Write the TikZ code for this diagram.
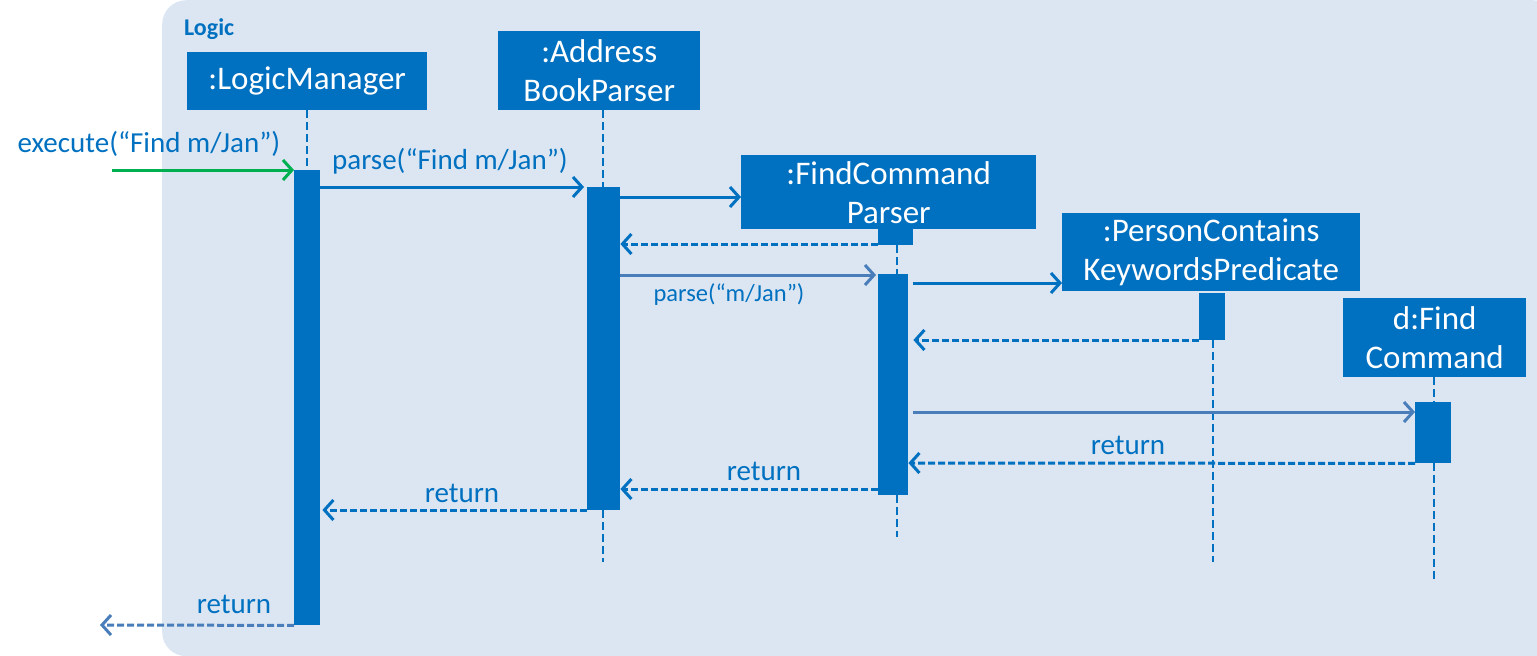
\documentclass[tikz,border=0pt]{standalone}
\usepackage{fontspec}
\setmainfont{Carlito}
\usetikzlibrary{arrows.meta}
\definecolor{bl}{HTML}{0070C0}
\definecolor{bgc}{HTML}{DCE6F2}
\definecolor{gr}{HTML}{00B050}
\definecolor{lb}{HTML}{4A7EBB}
\begin{document}
\begin{tikzpicture}[x=1pt,y=-1pt,
  obj/.style={fill=bl,text=white,font=\fontsize{33}{39}\selectfont,align=center,inner sep=0pt,anchor=north west},
  act/.style={fill=bl,inner sep=0pt,anchor=north west},
  life/.style={draw=bl,line width=2.5pt,dash pattern=on 8pt off 4pt},
  msg/.style={draw=bl,line width=3pt,-{Straight Barb[length=9pt,width=20pt,line width=3pt]}},
  ret/.style={msg,dash pattern=on 7pt off 3pt},
  lbl/.style={text=bl,font=\fontsize{29}{30}\selectfont,inner sep=0pt},
  slbl/.style={text=bl,font=\fontsize{24.5}{26}\selectfont,inner sep=0pt}]
\useasboundingbox (0,0) rectangle (1537,656);
\node[fill=bgc,rounded corners=24pt,minimum width=1395pt,minimum height=656pt,anchor=north west,inner sep=0pt] (frame) at (162,0) {};
\node[text=bl,font=\fontsize{24}{26}\selectfont\bfseries,anchor=west,inner sep=0pt] (title) at (184,29) {Logic};
% objects
\node[obj,minimum width=240pt,minimum height=58pt] (lm) at (187,52) {:LogicManager};
\node[obj,minimum width=202pt,minimum height=79pt] (abp) at (498,31) {:Address\\BookParser};
\node[obj,minimum width=295pt,minimum height=74pt] (fcp) at (741,155) {:FindCommand\\Parser};
\node[obj,minimum width=298pt,minimum height=78pt] (pck) at (1062,213) {:PersonContains\\KeywordsPredicate};
\node[obj,minimum width=183pt,minimum height=79pt] (dfc) at (1343,298) {d:Find\\Command};
% activations
\node[act,minimum width=26pt,minimum height=455pt] (lmA) at (294,170) {};
\node[act,minimum width=33pt,minimum height=323pt] (abpA) at (587,187) {};
\node[act,minimum width=35pt,minimum height=16pt] (fcpA0) at (878,229) {};
\node[act,minimum width=30pt,minimum height=221pt] (fcpA) at (878,274) {};
\node[act,minimum width=26pt,minimum height=47pt] (pckA) at (1199,293) {};
\node[act,minimum width=36pt,minimum height=61pt] (dfcA) at (1415,402) {};
% lifelines
\coordinate (lmX) at (307,0);
\coordinate (abpX) at (603,0);
\coordinate (fcpX) at (897,0);
\coordinate (pckX) at (1213,0);
\coordinate (dfcX) at (1434,0);
\draw[life] (lm.south -| lmX) -- (lmA.north -| lmX);
\draw[life] (abp.south -| abpX) -- (abpA.north -| abpX);
\draw[life] (abpA.south -| abpX) -- (abpX |- 0,562);
\draw[life] (fcpA0.south -| fcpX) -- (fcpA.north -| fcpX);
\draw[life] (fcpA.south -| fcpX) -- (fcpX |- 0,537);
\draw[life] (pckA.south -| pckX) -- (pckX |- 0,562);
\draw[life] (dfc.south -| dfcX) -- (dfcA.north -| dfcX);
\draw[life] (dfcA.south -| dfcX) -- (dfcX |- 0,583);
% messages
\coordinate (start) at (112,170);
\coordinate (end) at (100,625);
\draw[msg,draw=gr] (start) -- (lmA.north west);
\node[lbl,anchor=south] (l1) at (149,157) {execute(“Find m/Jan”)};
\draw[msg,shorten >=3pt] (lmA.north east |- abpA.north) -- (abpA.north west);
\node[lbl,anchor=south] (l2) at (450,174) {parse(“Find m/Jan”)};
\draw[msg] (abpA.east |- 0,197) -- (fcp.west |- 0,197);
\draw[ret] (fcpA0.south west |- 0,244) -- (abpA.east |- 0,244);
\draw[msg,draw=lb,shorten >=2pt] (abpA.east |- 0,275) -- (fcpA.west |- 0,275);
\node[slbl,anchor=north] (l3) at (729,283) {parse(“m/Jan”)};
\draw[msg] (fcpA.east |- 0,283) ++(5,0) -- (pck.west |- 0,283);
\draw[ret] (pckA.south west |- 0,340) -- ([xshift=5pt]fcpA.east |- 0,340);
\draw[msg,draw=lb] ([xshift=5pt]fcpA.east |- 0,412) -- (dfcA.west |- 0,412);
\draw[ret] (dfcA.south west) -- (fcpA.east |- 0,463);
\node[lbl,anchor=south] (l4) at (1128,455) {return};
\draw[ret] (fcpA.west |- 0,489) -- (abpA.east |- 0,489);
\node[lbl,anchor=south] (l5) at (764,481) {return};
\draw[ret] (abpA.west |- 0,510) -- ([xshift=2pt]lmA.east |- 0,510);
\node[lbl,anchor=south] (l6) at (462,503) {return};
\draw[ret,draw=lb] (lmA.south west) -- (end);
\node[lbl,anchor=south] (l7) at (234,614) {return};
\end{tikzpicture}
\end{document}
